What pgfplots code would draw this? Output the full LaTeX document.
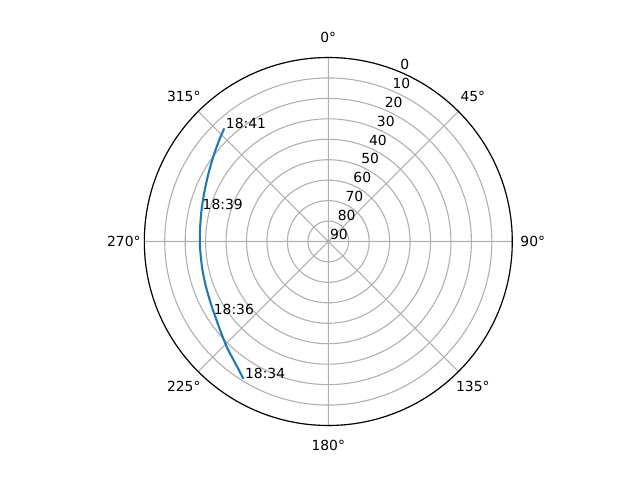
\documentclass[border=0pt]{standalone}
\usepackage{fontspec}
\setmainfont{DejaVu Sans}
\usepackage{pgfplots}
\usepgfplotslibrary{polar}
\pgfplotsset{compat=1.18}
\usepackage{pgfplotstable}
\definecolor{mplblue}{HTML}{1F77B4}
\definecolor{gridgray}{HTML}{B0B0B0}
\pgfplotstableread{
az el
317.4 14.8
312.2 17.5
306.4 20.1
299.6 22.6
291.9 24.7
284.0 26.1
275.1 27.0
267.0 27.2
257.5 26.9
249.6 26.2
242.1 25.0
236.3 23.6
228.2 20.5
222.7 17.8
216.6 14.6
211.7 11.0
}\pass
\begin{document}
\fontsize{13.89}{16}\selectfont
\begin{tikzpicture}[lbl/.style={font=\fontsize{13.89}{16}\selectfont, inner sep=0pt}]
\path[use as bounding box] (0,0) rectangle (640pt,480pt);
\begin{polaraxis}[
 at={(328.3pt,238.5pt)}, anchor=center,
 scale only axis, width=368pt, height=368pt,
 xmin=0, xmax=360, ymin=0, ymax=90,
 xtick={0,45,...,315}, xticklabels={},
 ytick={0,10,...,90}, yticklabels={},
 grid=major, major grid style={color=gridgray, line width=1.1pt},
 axis line style={black, line width=1.1pt},
 y axis line style={draw=none},
 major tick length=0pt,
 clip=false,
]
\addplot[mplblue, line width=2.08pt, smooth, no markers] table[x expr={90-\thisrow{az}}, y expr={90-\thisrow{el}}] {\pass};
% angle labels
\node[lbl] at (axis cs:90,100) {0°};
\node[lbl] at (axis cs:45,100) {45°};
\node[lbl] at (axis cs:0,100) {90°};
\node[lbl] at (axis cs:315,100) {135°};
\node[lbl] at (axis cs:270,100) {180°};
\node[lbl] at (axis cs:225,100) {225°};
\node[lbl] at (axis cs:180,100) {270°};
\node[lbl] at (axis cs:135,100) {315°};
% radial labels
\node[lbl, anchor=base west, xshift=1.5pt, yshift=2pt] at (axis cs:67.5,90) {0};
\node[lbl, anchor=base west, xshift=1.5pt, yshift=2pt] at (axis cs:67.5,80) {10};
\node[lbl, anchor=base west, xshift=1.5pt, yshift=2pt] at (axis cs:67.5,70) {20};
\node[lbl, anchor=base west, xshift=1.5pt, yshift=2pt] at (axis cs:67.5,60) {30};
\node[lbl, anchor=base west, xshift=1.5pt, yshift=2pt] at (axis cs:67.5,50) {40};
\node[lbl, anchor=base west, xshift=1.5pt, yshift=2pt] at (axis cs:67.5,40) {50};
\node[lbl, anchor=base west, xshift=1.5pt, yshift=2pt] at (axis cs:67.5,30) {60};
\node[lbl, anchor=base west, xshift=1.5pt, yshift=2pt] at (axis cs:67.5,20) {70};
\node[lbl, anchor=base west, xshift=1.5pt, yshift=2pt] at (axis cs:67.5,10) {80};
\node[lbl, anchor=base west, xshift=1.5pt, yshift=2pt] at (axis cs:67.5,0) {90};
% time labels
\node[lbl, anchor=base west, xshift=1.5pt] at (axis cs:132.6,75.2) {18:41};
\node[lbl, anchor=base west, xshift=1.0pt] at (axis cs:166.0,63.9) {18:39};
\node[lbl, anchor=base west, xshift=-1.5pt] at (axis cs:213.0,66.0) {18:36};
\node[lbl, anchor=base west, xshift=1.5pt] at (axis cs:238.3,79.0) {18:34};
\end{polaraxis}
\end{tikzpicture}
\end{document}
